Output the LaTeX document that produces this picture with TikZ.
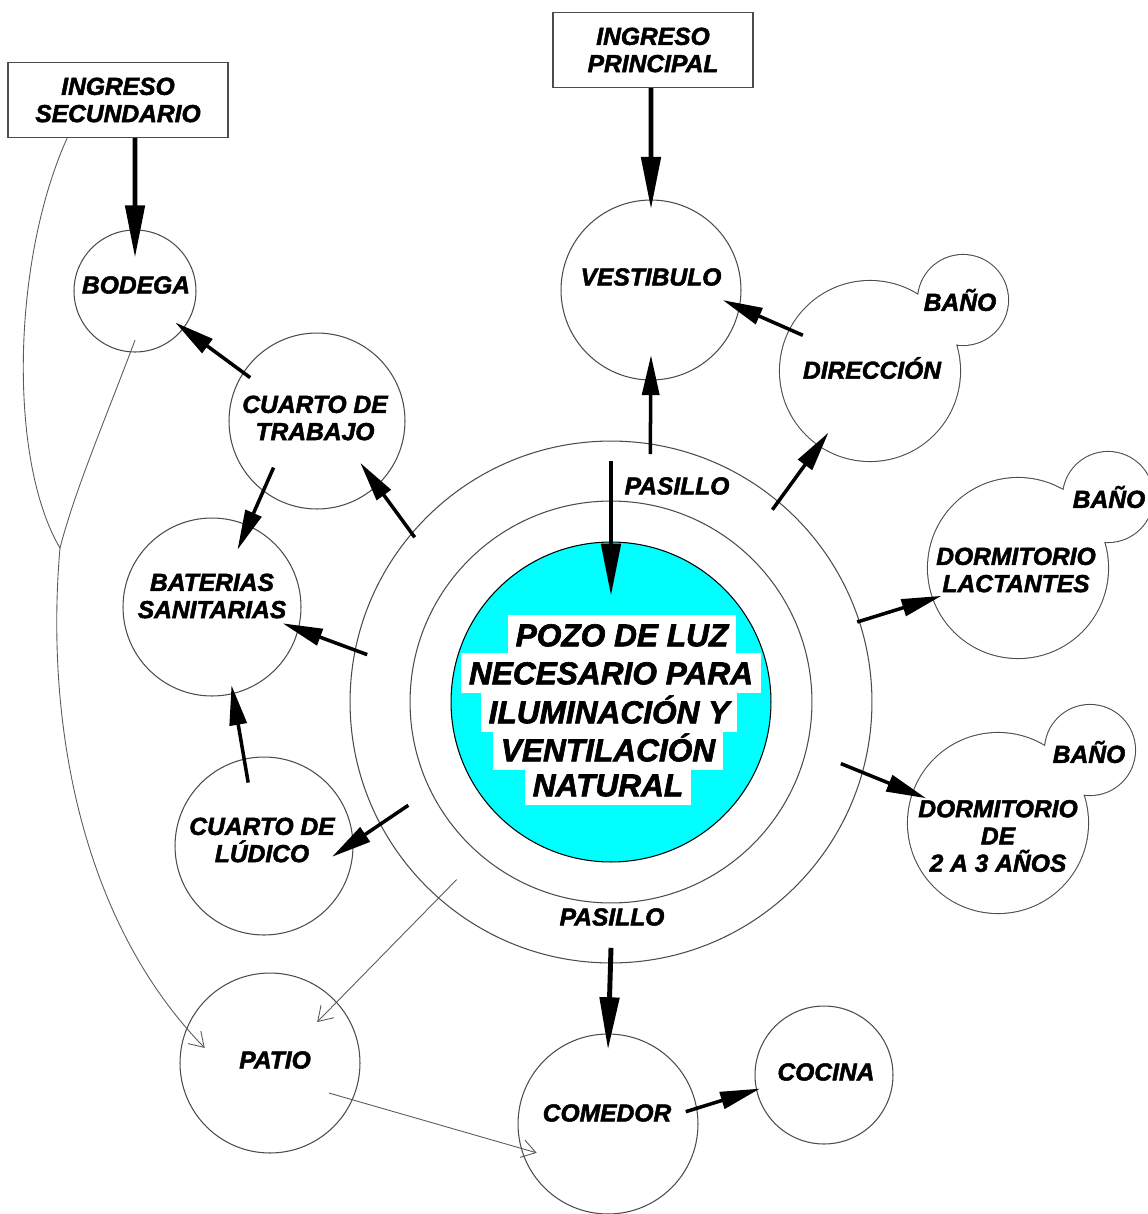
\documentclass[tikz,border=0pt]{standalone}
\usepackage{fontspec}
\setmainfont{Liberation Sans}[BoldItalicFeatures={FakeBold=2}]
\usetikzlibrary{arrows.meta,calc}
\definecolor{pozocyan}{RGB}{0,255,255}

\begin{document}
\begin{tikzpicture}[x=0.02cm, y=-0.02cm,
  lbl/.style={font=\fontsize{14}{15.5}\selectfont\bfseries\itshape, align=center, inner sep=0pt},
  room/.style={circle, draw=black!70, line width=0.6pt, inner sep=0pt},
  entry/.style={lbl, rectangle, draw=black!70, line width=0.6pt, minimum width=4cm, minimum height=1.5cm},
  wbox/.style={fill=white, font=\fontsize{18}{20}\selectfont\bfseries\itshape, text height=0.45cm, text depth=0pt, inner xsep=0.16cm, inner ysep=0.175cm},
  big/.style={line width=2.8pt, -{Triangle[length=1.05cm, width=0.38cm]}},
  arr/.style={line width=2pt, -{Triangle[length=0.8cm, width=0.34cm]}},
  thinline/.style={draw=black!65, line width=0.5pt},
  thinarr/.style={thinline, -{Straight Barb[length=0.28cm, width=0.36cm]}}]

  \useasboundingbox (0,0) rectangle (1148,1214);

  % Draw the corridor rings and the light well
  \node[room, minimum size=10.44cm] (pas) at (611,702) {};
  \node[room, minimum size=8.04cm] (pasin) at (611,702) {};
  \node[room, draw=black, fill=pozocyan, minimum size=6.4cm] (pozo) at (611,702) {};
  \node[wbox] (p1) at (622,635) {POZO DE LUZ};
  \node[wbox] (p2) at (611,673) {NECESARIO PARA};
  \node[wbox] (p3) at (609,712) {ILUMINACIÓN Y};
  \node[wbox] (p4) at (608,750) {VENTILACIÓN};
  \node[wbox] (p5) at (608,785) {NATURAL};

  % Entrances
  \node[entry, minimum width=4.4cm] (isec) at (118,100) {INGRESO\\SECUNDARIO};
  \node[entry] (iprin) at (653,50) {INGRESO\\PRINCIPAL};

  % Rooms
  \node[room, minimum size=2.44cm] (bod) at (135,291) {};
  \node[room, minimum size=3.52cm] (tra) at (317,421) {};
  \node[room, minimum size=3.56cm] (bat) at (212,607) {};
  \node[room, minimum size=3.56cm] (lud) at (264,846) {};
  \node[room, minimum size=3.6cm] (pat) at (270,1063) {};
  \node[room, minimum size=3.6cm] (com) at (608,1124) {};
  \node[room, minimum size=2.76cm] (coc) at (824,1075) {};
  \node[room, minimum size=3.6cm] (ves) at (651,290) {};

  % Rooms with a bath
  \node[room, draw=none, minimum size=3.6cm] (dir) at (870,371) {};
  \node[room, draw=none, minimum size=1.8cm] (dirb) at (963,300) {};
  \node[room, draw=none, minimum size=3.6cm] (lac) at (1018,568) {};
  \node[room, draw=none, minimum size=1.8cm] (lacb) at (1108,497) {};
  \node[room, draw=none, minimum size=3.6cm] (dos) at (998,823) {};
  \node[room, draw=none, minimum size=1.8cm] (dosb) at (1090,750) {};
  \foreach \m/\b in {dir/dirb, lac/lacb, dos/dosb}{
    \draw[black!70, line width=1.2pt] (\m.center) circle[radius=90] (\b.center) circle[radius=45];
    \fill[white] (\m.center) circle[radius=90] (\b.center) circle[radius=45];
  }

  % Labels
  \node[lbl] (bod-t) at (136,285) {BODEGA};
  \node[lbl] (tra-t) at (315,418) {CUARTO DE\\TRABAJO};
  \node[lbl] (bat-t) at (212,596) {BATERIAS\\SANITARIAS};
  \node[lbl] (lud-t) at (262,840) {CUARTO DE\\LÚDICO};
  \node[lbl] (pat-t) at (275,1060) {PATIO};
  \node[lbl] (com-t) at (607,1113) {COMEDOR};
  \node[lbl] (coc-t) at (826,1072) {COCINA};
  \node[lbl] (ves-t) at (651,277) {VESTIBULO};
  \node[lbl] (dir-t) at (872,368) {DIRECCIÓN};
  \node[lbl] (dirb-t) at (960,300) {BAÑO};
  \node[lbl] (lac-t) at (1016,570) {DORMITORIO\\LACTANTES};
  \node[lbl] (lacb-t) at (1109,497) {BAÑO};
  \node[lbl] (dos-t) at (998,836) {DORMITORIO\\DE\\2 A 3 AÑOS};
  \node[lbl] (dosb-t) at (1089,752) {BAÑO};
  \node[lbl] (pas-t1) at (677,486) {PASILLO};
  \node[lbl] (pas-t2) at (612,917) {PASILLO};

  % Main flows
  \draw[big] (isec.south -| bod.north) -- ($(bod)!0.54!(bod.north)$);
  \draw[big] (iprin.south -| ves.north) -- ($(ves)!0.89!(ves.north)$);
  \draw[big] ($(pas)!0.92!(pas.north)$) -- ($(pozo)!0.66!(pozo.north)$);
  \draw[big] ($(pas)!0.94!(pas.south)$) -- ($(com)!0.82!(com.north)$);

  \draw[arr] ($(tra)!0.9!(tra.147)$) -- ($(bod)!0.83!(bod.-38)$);
  \draw[arr] ($(pas)!0.98!(pas.140)$) -- ($(tra)!0.68!(tra.-44)$);
  \draw[arr] ($(tra)!0.72!(tra.-133)$) -- ($(bat)!0.7!(bat.66)$);
  \draw[arr] ($(pas)!0.95!(pas.169)$) -- ($(bat)!0.81!(bat.-13)$);
  \draw[arr] ($(lud)!0.73!(lud.104)$) -- ($(bat)!0.9!(bat.-76)$);
  \draw[arr] ($(pas)!0.87!(pas.-153)$) -- ($(lud)!0.77!(lud.-9)$);
  \draw[arr] ($(pas)!0.96!(pas.81)$) -- ($(ves)!0.72!(ves.south)$);
  \draw[arr] ($(pas)!0.96!(pas.50)$) -- ($(dir)!0.82!(dir.-124)$);
  \draw[arr] ($(dir)!0.84!(dir.152)$) -- ($(ves)!0.8!(ves.-8)$);
  \draw[arr] ($(pas)!0.99!(pas.18)$) -- ($(lac)!0.9!(lac.200)$);
  \draw[arr] ($(pas)!0.91!(pas.-15)$) -- ($(dos)!0.84!(dos.161)$);
  \draw[arr] ($(com)!0.87!(com.9)$) -- ($(coc)!0.94!(coc.192)$);

  % Secondary paths to the patio
  \coordinate (join) at (60,548);
  \draw[thinline] ($(isec.south west)!0.27!(isec.south east)$) .. controls (12,260) and (8,460) .. (join);
  \draw[thinline] ($(bod)!0.8!(bod.south)$) .. controls (105,420) and (75,490) .. (join);
  \draw[thinarr] (join) .. controls (45,720) and (80,920) .. ($(pat)!0.74!(pat.167)$);
  \draw[thinarr] ($(pas)!0.9!(pas.-131)$) -- ($(pat)!0.69!(pat.41)$);
  \draw[thinarr] ($(pat)!0.73!(pat.-27)$) -- ($(com)!0.85!(com.-158)$);
\end{tikzpicture}
\end{document}
